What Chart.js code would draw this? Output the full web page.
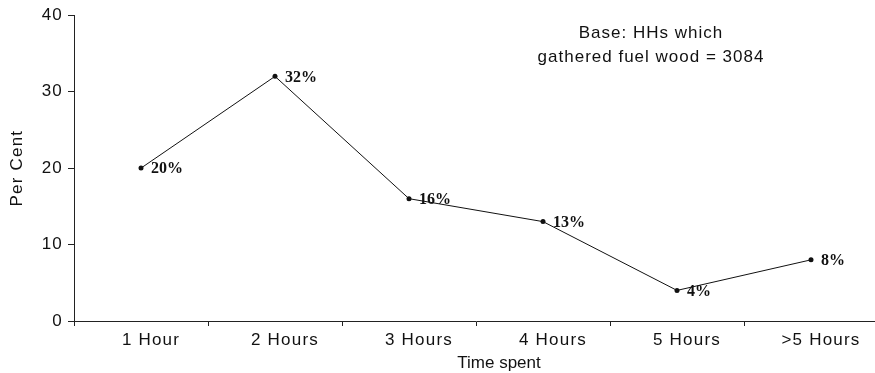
<!DOCTYPE html>
<html lang="en">
  <head>
    <meta charset="UTF-8" />
    <title>Time spent gathering fuel wood</title>
    <style>
      * { margin: 0; padding: 0; box-sizing: border-box; }
      html, body { width: 875px; height: 373px; overflow: hidden; background: #fff; }
      .chartBox { width: 882px; height: 373px; }
    </style>
  </head>
  <body>
    <div class="chartBox">
      <canvas id="myChart"></canvas>
    </div>

    <script src="https://cdn.jsdelivr.net/npm/chart.js"></script>
    <script>
      const categories = ["1 Hour", "2 Hours", "3 Hours", "4 Hours", "5 Hours", ">5 Hours"];
      const perCent = [20, 32, 16, 13, 4, 8];
      const yTicks = [0, 10, 20, 30, 40];
      const noteLines = ["Base: HHs which", "gathered fuel wood = 3084"];

      const sans = "'Liberation Sans', Arial, sans-serif";

      // the scanned lettering is a bit wide, so space it out
      const spacing = {
        id: "spacing",
        beforeLayout(chart) { chart.ctx.letterSpacing = "1.2px"; },
        beforeDraw(chart) { chart.ctx.letterSpacing = "1.2px"; },
      };

      // point labels, annotation and x title
      const extras = {
        id: "extras",
        afterDatasetsDraw(chart) {
          const { ctx, chartArea } = chart;
          const meta = chart.getDatasetMeta(0);
          ctx.save();
          ctx.fillStyle = "#111";
          ctx.letterSpacing = "0px";
          ctx.font = "bold 16px 'Liberation Serif', 'Times New Roman', serif";
          ctx.textAlign = "left";
          ctx.textBaseline = "middle";
          meta.data.forEach((pt, i) => {
            ctx.fillText(perCent[i] + "%", pt.x + 10, pt.y + 1);
          });

          ctx.font = "17px " + sans;
          ctx.textAlign = "center";
          ctx.fillText("Time spent", 499, chartArea.bottom + 42);

          ctx.letterSpacing = "1px";
          noteLines.forEach((line, i) => {
            ctx.fillText(line, 651, 33 + i * 24);
          });
          ctx.restore();
        },
      };

      const ctx = document.getElementById("myChart");

      const config = {
        type: "line",
        data: {
          labels: categories,
          datasets: [
            {
              data: perCent,
              borderColor: "#111",
              borderWidth: 1,
              backgroundColor: "#111",
              pointRadius: 2.5,
              pointBorderWidth: 0,
              tension: 0,
            },
          ],
        },
        options: {
          responsive: true,
          maintainAspectRatio: false,
          animation: false,
          layout: { padding: { top: 15, right: 0, bottom: 0, left: 0 } },
          plugins: {
            legend: { display: false },
            tooltip: { enabled: false },
          },
          scales: {
            x: {
              offset: true,
              grid: {
                display: true,
                offset: true,
                drawOnChartArea: false,
                tickLength: 5,
                color: "#222",
              },
              border: { color: "#222", width: 1 },
              ticks: {
                color: "#111",
                font: { family: sans, size: 17 },
                padding: 4,
                labelOffset: 10,
                maxRotation: 0,
                autoSkip: false,
              },
              afterFit: (scale) => { scale.height = 52; },
            },
            y: {
              min: 0,
              max: 40,
              afterBuildTicks: (scale) => {
                scale.ticks = yTicks.map((v) => ({ value: v }));
              },
              grid: {
                display: true,
                drawOnChartArea: false,
                tickLength: 6,
                color: "#222",
              },
              border: { color: "#222", width: 1 },
              ticks: {
                color: "#111",
                font: { family: sans, size: 17 },
                padding: 5,
              },
              title: {
                display: true,
                text: "Per Cent",
                color: "#111",
                font: { family: sans, size: 17 },
                padding: { top: 7, bottom: 0 },
              },
              afterFit: (scale) => { scale.width = 74; },
            },
          },
        },
        plugins: [spacing, extras],
      };

      const myChart = new Chart(ctx, config);
    </script>
  </body>
</html>
